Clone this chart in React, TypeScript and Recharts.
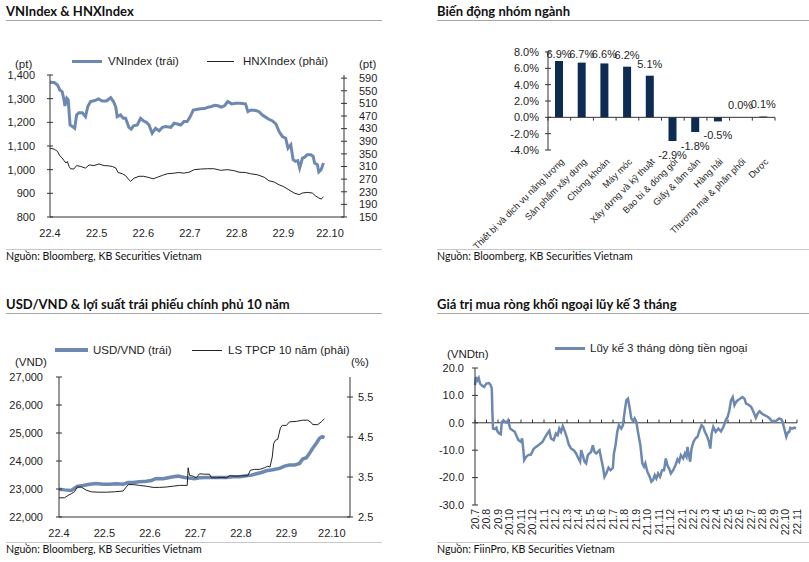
import React from 'react';
import { LineChart, Line, XAxis, YAxis, BarChart, Bar, LabelList, ReferenceLine } from 'recharts';

const FONT = '"Liberation Sans", Arial, sans-serif';
const TITLE_FONT = 'Lato, "Noto Sans", sans-serif';
const BLUE = '#6d89b1';
const NAVY = '#0c2c52';
const AXIS = '#333333';
const TEXT = '#1e1e1e';

// --- VNIndex & HNXIndex (t = months since 22.4) ---
const monthLabels = ['22.4', '22.5', '22.6', '22.7', '22.8', '22.9', '22.10'];
const vnTicks = [800, 900, 1000, 1100, 1200, 1300, 1400];
const hnxTicks = [150, 190, 230, 270, 310, 350, 390, 430, 470, 510, 550, 590];

const vnIndex: [number, number][] = [
  [0.0, 1369], [0.09, 1368], [0.16, 1358], [0.21, 1337], [0.26, 1330], [0.3, 1295], [0.32, 1269],
  [0.36, 1302], [0.39, 1295], [0.43, 1189], [0.48, 1182], [0.53, 1175], [0.57, 1231], [0.62, 1241],
  [0.69, 1241], [0.76, 1224], [0.81, 1267], [0.87, 1288], [0.96, 1292], [1.04, 1299], [1.12, 1290],
  [1.21, 1290], [1.3, 1304], [1.36, 1288], [1.41, 1264], [1.44, 1224], [1.51, 1231], [1.57, 1217],
  [1.62, 1217], [1.69, 1179], [1.74, 1171], [1.79, 1185], [1.87, 1189], [1.94, 1217], [2.0, 1207],
  [2.07, 1199], [2.12, 1189], [2.19, 1154], [2.26, 1175], [2.34, 1164], [2.41, 1179], [2.48, 1182],
  [2.59, 1179], [2.66, 1196], [2.73, 1193], [2.8, 1189], [2.87, 1203], [2.94, 1203], [3.0, 1222],
  [3.07, 1252], [3.16, 1255], [3.23, 1257], [3.31, 1258], [3.39, 1264], [3.46, 1267], [3.53, 1272],
  [3.6, 1270], [3.67, 1264], [3.74, 1270], [3.81, 1288], [3.89, 1278], [3.98, 1281], [4.07, 1281],
  [4.19, 1278], [4.24, 1245], [4.31, 1252], [4.41, 1250], [4.48, 1245], [4.55, 1231], [4.62, 1222],
  [4.69, 1213], [4.76, 1207], [4.84, 1193], [4.91, 1161], [4.98, 1140], [5.05, 1133], [5.1, 1091],
  [5.16, 1105], [5.21, 1042], [5.26, 1035], [5.31, 1038], [5.35, 1007], [5.41, 1049], [5.46, 1053],
  [5.51, 1063], [5.59, 1063], [5.64, 1056], [5.67, 1028], [5.73, 1021], [5.76, 990], [5.81, 1000],
  [5.86, 1028],
];

const hnxIndex: [number, number][] = [
  [0.0, 368], [0.09, 365], [0.16, 358], [0.21, 344], [0.26, 337], [0.3, 329], [0.34, 321], [0.37, 326],
  [0.41, 310], [0.44, 303], [0.51, 302], [0.57, 313], [0.66, 310], [0.76, 305], [0.84, 315], [0.94, 313],
  [1.05, 318], [1.16, 313], [1.26, 312], [1.34, 310], [1.41, 305], [1.46, 291], [1.55, 287], [1.62, 281],
  [1.69, 268], [1.73, 263], [1.8, 273], [1.91, 279], [2.01, 279], [2.12, 275], [2.21, 271], [2.3, 276],
  [2.41, 282], [2.51, 287], [2.66, 289], [2.76, 291], [2.87, 289], [2.98, 292], [3.09, 300], [3.23, 302],
  [3.37, 303], [3.51, 303], [3.66, 298], [3.8, 300], [3.94, 297], [4.05, 292], [4.19, 291], [4.3, 287],
  [4.44, 284], [4.59, 276], [4.69, 265], [4.8, 261], [4.91, 252], [5.01, 246], [5.12, 236], [5.23, 226],
  [5.34, 221], [5.41, 226], [5.51, 228], [5.62, 226], [5.69, 217], [5.76, 210], [5.81, 207], [5.86, 214],
];

// --- Sector performance (%) ---
const sectors = [
  'Thiết bị và dịch vụ năng lượng', 'Sản phẩm xây dựng', 'Chứng khoán', 'Máy móc', 'Xây dựng và kỹ thuật',
  'Bao bì & đóng gói', 'Giấy & lâm sản', 'Hàng hải', 'Thương mại & phân phối', 'Dược',
];
const sectorChange = [6.9, 6.7, 6.6, 6.2, 5.1, -2.9, -1.8, -0.5, 0.0, 0.1];
const pctTicks = [-4, -2, 0, 2, 4, 6, 8];

// --- USD/VND & 10y government bond yield ---
const usdTicks = [22000, 23000, 24000, 25000, 26000, 27000];
const yieldTicks = [2.5, 3.5, 4.5, 5.5];

const usdVnd: [number, number][] = [
  [0.0, 22993], [0.12, 22969], [0.27, 22945], [0.4, 23089], [0.53, 23124], [0.67, 23172], [0.82, 23196],
  [0.97, 23172], [1.11, 23172], [1.26, 23184], [1.41, 23172], [1.52, 23232], [1.63, 23232], [1.77, 23256],
  [1.92, 23280], [2.03, 23304], [2.14, 23376], [2.29, 23364], [2.4, 23400], [2.51, 23435], [2.62, 23459],
  [2.76, 23411], [2.87, 23388], [2.98, 23364], [3.09, 23400], [3.24, 23411], [3.38, 23411], [3.53, 23411],
  [3.68, 23411], [3.82, 23435], [3.97, 23435], [4.12, 23471], [4.23, 23495], [4.34, 23543], [4.45, 23591],
  [4.56, 23651], [4.7, 23687], [4.85, 23734], [4.96, 23818], [5.07, 23854], [5.18, 23854], [5.29, 23914],
  [5.36, 24069], [5.44, 24117], [5.51, 24272], [5.58, 24452], [5.66, 24632], [5.73, 24811], [5.79, 24871],
  [5.84, 24835],
];

const bondYield: [number, number][] = [
  [0.0, 2.98], [0.12, 2.98], [0.2, 3.04], [0.27, 3.08], [0.34, 3.13], [0.4, 3.25], [0.49, 3.25], [0.6, 3.17],
  [0.71, 3.13], [0.86, 3.12], [1.04, 3.12], [1.22, 3.13], [1.41, 3.15], [1.52, 3.31], [1.63, 3.31],
  [1.77, 3.29], [1.92, 3.27], [2.07, 3.24], [2.21, 3.24], [2.36, 3.25], [2.51, 3.27], [2.65, 3.29],
  [2.82, 3.29], [2.84, 3.73], [2.87, 3.54], [2.95, 3.52], [3.02, 3.48], [3.09, 3.58], [3.2, 3.57],
  [3.31, 3.57], [3.35, 3.48], [3.46, 3.48], [3.57, 3.49], [3.68, 3.48], [3.75, 3.53], [3.9, 3.52],
  [4.04, 3.53], [4.15, 3.53], [4.21, 3.67], [4.3, 3.69], [4.41, 3.69], [4.52, 3.73], [4.59, 3.77],
  [4.64, 3.75], [4.69, 4.0], [4.72, 4.33], [4.76, 4.42], [4.81, 4.44], [4.87, 4.73], [4.91, 4.79],
  [5.0, 4.79], [5.07, 4.88], [5.22, 4.89], [5.36, 4.92], [5.47, 4.92], [5.55, 4.86], [5.58, 4.81],
  [5.69, 4.81], [5.77, 4.88], [5.84, 4.96],
];

// --- Foreign net buying, 3-month rolling (t = months since 20.7) ---
const flowMonths = [
  '20.7', '20.8', '20.9', '20.10', '20.11', '20.12', '21.1', '21.2', '21.3', '21.4', '21.5', '21.6', '21.7',
  '21.8', '21.9', '21.10', '21.11', '21.12', '22.1', '22.2', '22.3', '22.4', '22.5', '22.6', '22.7', '22.8',
  '22.9', '22.10', '22.11',
];
const flowTicks = [-30, -20, -10, 0, 10, 20];

const foreignFlow: [number, number][] = [
  [0.0, 13.7], [0.09, 16.7], [0.2, 15.5], [0.32, 16.4], [0.44, 14.3], [0.58, 13.7], [0.79, 13.1], [0.99, 14.3],
  [1.22, 14.5], [1.37, 13.7], [1.46, 12.5], [1.51, 4.0], [1.57, -2.1], [1.72, -2.3], [1.86, -1.8], [1.95, -3.1],
  [2.1, -3.9], [2.24, -4.2], [2.33, 0.3], [2.47, 0.9], [2.62, 0.3], [2.76, 0.1], [2.88, 0.9], [3.06, -2.1],
  [3.26, -2.7], [3.46, -3.3], [3.64, -5.1], [3.78, -6.3], [3.99, -6.9], [4.1, -5.7], [4.22, -10.6], [4.28, -13.6],
  [4.45, -12.4], [4.63, -11.8], [4.86, -11.6], [5.09, -9.6], [5.3, -8.8], [5.59, -7.9], [5.88, -6.9], [6.11, -5.1],
  [6.32, -3.7], [6.46, -2.9], [6.61, -5.7], [6.84, -6.3], [7.04, -3.9], [7.19, -4.5], [7.33, -2.1], [7.48, -3.3],
  [7.63, -1.2], [7.77, -2.7], [7.97, -5.1], [8.15, -7.9], [8.35, -9.4], [8.59, -10.0], [8.79, -11.2], [8.99, -13.0],
  [9.14, -14.2], [9.23, -10.0], [9.37, -11.8], [9.52, -14.2], [9.66, -14.8], [9.81, -11.8], [9.95, -11.2],
  [10.1, -10.6], [10.24, -8.2], [10.39, -10.6], [10.54, -11.2], [10.68, -10.6], [10.83, -10.0], [10.97, -13.0],
  [11.12, -16.0], [11.26, -19.7], [11.41, -18.5], [11.61, -16.4], [11.79, -17.3], [11.99, -16.4], [12.08, -11.2],
  [12.22, -8.2], [12.37, -3.3], [12.51, -0.9], [12.72, -2.1], [12.86, -0.9], [13.01, 4.0], [13.16, 8.2],
  [13.3, 8.8], [13.45, 5.4], [13.59, 1.6], [13.74, 0.6], [13.88, 1.6], [14.03, 0.3], [14.17, -3.3], [14.38, -8.2],
  [14.55, -14.8], [14.7, -16.0], [14.81, -14.8], [14.99, -17.9], [15.19, -19.7], [15.34, -21.5], [15.48, -20.9],
  [15.63, -19.1], [15.77, -20.3], [15.92, -18.5], [16.09, -19.7], [16.27, -17.3], [16.44, -17.3], [16.59, -13.0],
  [16.73, -15.5], [16.88, -16.7], [17.03, -18.5], [17.23, -17.3], [17.43, -15.5], [17.61, -13.3], [17.75, -14.2],
  [17.9, -11.8], [18.1, -13.0], [18.25, -11.2], [18.39, -12.4], [18.48, -8.8], [18.6, -11.8], [18.71, -14.2],
  [18.83, -9.4], [19.0, -6.9], [19.18, -5.7], [19.35, -5.1], [19.53, -2.7], [19.7, -0.9], [19.85, -1.5],
  [19.99, -3.3], [20.14, -4.5], [20.34, -6.9], [20.46, -9.4], [20.58, -3.9], [20.72, -1.5], [20.93, -3.3],
  [21.16, -2.1], [21.39, -3.1], [21.6, -1.5], [21.8, 0.9], [21.97, 2.2], [22.12, 4.6], [22.26, 8.2], [22.41, 9.4],
  [22.56, 6.4], [22.7, 7.6], [22.85, 8.2], [23.05, 8.8], [23.25, 9.4], [23.43, 8.8], [23.57, 7.0], [23.78, 6.6],
  [24.01, 5.8], [24.21, 4.0], [24.42, 1.8], [24.59, 3.4], [24.74, 4.2], [24.94, 3.4], [25.17, 2.8], [25.38, 2.4],
  [25.58, 1.8], [25.81, 0.6], [26.04, 0.3], [26.25, 0.9], [26.45, 1.6], [26.63, 1.3], [26.75, 0.3], [26.89, -2.1],
  [27.07, -5.1], [27.21, -3.5], [27.33, -3.3], [27.42, -1.8], [27.56, -2.1], [27.79, -1.8], [27.91, -2.1],
];

const toRows = (pts: [number, number][]) => pts.map(([t, v]) => ({ t, v }));

const fmtThousands = (v: number) => v.toLocaleString('en-US');
const fmtOne = (v: number) => v.toFixed(1);
const fmtPct = (v: number) => `${v.toFixed(1)}%`;

// y tick that draws a small crossing mark on the axis line
const YTick = (props: any) => {
  const { x, y, payload, side, offset, fmt } = props;
  const ax = side === 'left' ? x + offset : x - offset;
  return (
    <g>
      <line x1={ax - 3} x2={ax + 3} y1={y} y2={y} stroke={AXIS} strokeWidth={1} />
      <text x={x} y={y} dy="0.35em" textAnchor={side === 'left' ? 'end' : 'start'} fontSize={11} fill={TEXT} fontFamily={FONT}>
        {fmt(payload.value)}
      </text>
    </g>
  );
};

const MonthTick = (props: any) => {
  const { x, y, payload, labels } = props;
  return (
    <text x={x} y={y} dy="0.71em" textAnchor="middle" fontSize={11} fill={TEXT} fontFamily={FONT}>
      {labels[payload.value]}
    </text>
  );
};

const Title = ({ x, y, w, text }: { x: number; y: number; w: number; text: string }) => (
  <>
    <div style={{ position: 'absolute', left: x, top: y, fontFamily: TITLE_FONT, fontWeight: 700, fontSize: 13, color: '#111', whiteSpace: 'nowrap' }}>
      {text}
    </div>
    <div style={{ position: 'absolute', left: x, top: y + 17, width: w, height: 1, background: '#a6a6a6' }} />
  </>
);

const Footer = ({ x, y, w, text }: { x: number; y: number; w: number; text: string }) => (
  <>
    <div style={{ position: 'absolute', left: x, top: y, width: w, height: 1, background: '#c8c8c8' }} />
    <div style={{ position: 'absolute', left: x, top: y + 1, fontFamily: TITLE_FONT, fontSize: 10.6, color: '#111', whiteSpace: 'nowrap' }}>
      {text}
    </div>
  </>
);

const Label = ({ x, y, text }: { x: number; y: number; text: string }) => (
  <div style={{ position: 'absolute', left: x, top: y - 7, fontFamily: FONT, fontSize: 11.5, color: TEXT, whiteSpace: 'nowrap', lineHeight: '14px' }}>
    {text}
  </div>
);

const LegendLine = ({ x, y, w, thick, color }: { x: number; y: number; w: number; thick: number; color: string }) => (
  <div style={{ position: 'absolute', left: x, top: y - thick / 2, width: w, height: thick, background: color }} />
);

const SectorLabel = (props: any) => {
  const { x, y, width, height, value } = props;
  const h = height || 0;
  const top = Math.min(y, y + h);
  const bottom = Math.max(y, y + h);
  const cy = value < 0 ? bottom + 14 : Math.max(top - 12, 14);
  return (
    <text x={x + width / 2} y={cy} dy="0.35em" textAnchor="middle" fontSize={11} fill={TEXT} fontFamily={FONT}>
      {`${Number(value).toFixed(1)}%`}
    </text>
  );
};

const SectorTick = (props: any) => {
  const { x, y, payload } = props;
  const ax = x + 3;
  const ay = y + 10;
  return (
    <text x={ax} y={ay} dy="0.35em" textAnchor="end" fontSize={9.2} fill={TEXT} fontFamily={FONT}
      transform={`rotate(-45 ${ax} ${ay})`}>
      {payload.value}
    </text>
  );
};

const FlowMonthTick = (props: any) => {
  const { x, y, payload } = props;
  return (
    <text x={x} y={y} dy="0.35em" textAnchor="end" fontSize={10.5} fill={TEXT} fontFamily={FONT}
      transform={`rotate(-90 ${x} ${y})`}>
      {flowMonths[payload.value]}
    </text>
  );
};

export default function App() {
  const sectorRows = sectors.map((name, i) => ({ name, v: sectorChange[i] }));
  return (
    <div style={{ position: 'absolute', left: 0, top: 0, width: 809, height: 562, background: '#fff', overflow: 'hidden' }}>
      {/* Panel 1 */}
      <Title x={6} y={3} w={376} text="VNIndex & HNXIndex" />
      <LegendLine x={72} y={61} w={30} thick={3} color={BLUE} />
      <Label x={108} y={61} text="VNIndex (trái)" />
      <LegendLine x={207} y={61} w={27} thick={1} color="#222" />
      <Label x={243} y={61} text="HNXIndex (phải)" />
      <Label x={15} y={64} text="(pt)" />
      <Label x={359} y={64} text="(pt)" />
      <div style={{ position: 'absolute', left: 0, top: 60 }}>
        <LineChart width={400} height={180} margin={{ top: 15, right: 0, bottom: 0, left: 0 }}>
          <XAxis type="number" dataKey="t" domain={[0, 6.3]} ticks={[0, 1, 2, 3, 4, 5, 6]} interval={0}
            allowDataOverflow stroke={AXIS} tickLine={false} tickSize={6} tickMargin={6} height={23}
            tick={<MonthTick labels={monthLabels} />} />
          <YAxis yAxisId="left" orientation="left" domain={[800, 1400]} ticks={vnTicks} interval={0} width={50}
            stroke={AXIS} tickLine={false} tickSize={3} tickMargin={12}
            tick={<YTick side="left" offset={15} fmt={fmtThousands} />} />
          <YAxis yAxisId="right" orientation="right" domain={[150, 600]} ticks={hnxTicks} interval={0} width={56}
            stroke={AXIS} tickLine={false} tickSize={3} tickMargin={12}
            tick={<YTick side="right" offset={15} fmt={(v: number) => String(v)} />} />
          <Line yAxisId="left" data={toRows(vnIndex)} dataKey="v" stroke={BLUE} strokeWidth={3} dot={false} isAnimationActive={false} />
          <Line yAxisId="right" data={toRows(hnxIndex)} dataKey="v" stroke="#222" strokeWidth={1} dot={false} isAnimationActive={false} />
        </LineChart>
      </div>
      <Footer x={6} y={249} w={376} text="Nguồn: Bloomberg, KB Securities Vietnam" />

      {/* Panel 2 */}
      <Title x={437} y={3} w={372} text="Biến động nhóm ngành" />
      <div style={{ position: 'absolute', left: 420, top: 40 }}>
        <BarChart width={389} height={218} data={sectorRows} margin={{ top: 12, right: 34, bottom: 0, left: 0 }} barSize={8}>
          <XAxis dataKey="name" type="category" interval={0} axisLine={false} tickLine={false} tickSize={0} tickMargin={0}
            height={108} tick={<SectorTick />} />
          <YAxis domain={[-4, 8]} ticks={pctTicks} interval={0} width={128} stroke={AXIS} tickLine={false} tickSize={3} tickMargin={6}
            tick={<YTick side="left" offset={9} fmt={fmtPct} />} />
          <ReferenceLine y={0} stroke={AXIS} strokeWidth={1} />
          {sectors.map((s) => (
            <ReferenceLine key={s} segment={[{ x: s, y: 0 }, { x: s, y: -0.4 }]} position="start" stroke={AXIS} />
          ))}
          <ReferenceLine segment={[{ x: sectors[sectors.length - 1], y: 0 }, { x: sectors[sectors.length - 1], y: -0.4 }]} position="end" stroke={AXIS} />
          <Bar dataKey="v" fill={NAVY} minPointSize={0.01} isAnimationActive={false}>
            <LabelList dataKey="v" content={<SectorLabel />} />
          </Bar>
        </BarChart>
      </div>
      <Footer x={437} y={249} w={372} text="Nguồn: Bloomberg, KB Securities Vietnam" />

      {/* Panel 3 */}
      <Title x={6} y={296} w={376} text="USD/VND & lợi suất trái phiếu chính phủ 10 năm" />
      <LegendLine x={55} y={350} w={33} thick={4} color={BLUE} />
      <Label x={93} y={350} text="USD/VND (trái)" />
      <LegendLine x={192} y={350} w={30} thick={1} color="#222" />
      <Label x={228} y={350} text="LS TPCP 10 năm (phải)" />
      <Label x={15} y={362} text="(VND)" />
      <Label x={351} y={362} text="(%)" />
      <div style={{ position: 'absolute', left: 0, top: 360 }}>
        <LineChart width={400} height={180} margin={{ top: 17, right: 0, bottom: 0, left: 0 }}>
          <XAxis type="number" dataKey="t" domain={[0, 6.4]} ticks={[0, 1, 2, 3, 4, 5, 6]} interval={0} allowDataOverflow
            stroke={AXIS} tickLine={false} tickSize={6} tickMargin={6} height={23}
            tick={<MonthTick labels={monthLabels} />} />
          <YAxis yAxisId="left" orientation="left" domain={[22000, 27000]} ticks={usdTicks} interval={0} width={59}
            stroke={AXIS} tickLine={false} tickSize={3} tickMargin={13}
            tick={<YTick side="left" offset={16} fmt={fmtThousands} />} />
          <YAxis yAxisId="right" orientation="right" domain={[2.5, 6]} ticks={yieldTicks} interval={0} width={50}
            stroke={AXIS} tickLine={false} tickSize={3} tickMargin={5}
            tick={<YTick side="right" offset={8} fmt={fmtOne} />} />
          <Line yAxisId="left" data={toRows(usdVnd)} dataKey="v" stroke={BLUE} strokeWidth={3.5} dot={false} isAnimationActive={false} />
          <Line yAxisId="right" data={toRows(bondYield)} dataKey="v" stroke="#222" strokeWidth={1} dot={false} isAnimationActive={false} />
        </LineChart>
      </div>
      <Footer x={6} y={542} w={376} text="Nguồn: Bloomberg, KB Securities Vietnam" />

      {/* Panel 4 */}
      <Title x={437} y={296} w={372} text="Giá trị mua ròng khối ngoại lũy kế 3 tháng" />
      <LegendLine x={555} y={348} w={30} thick={3} color={BLUE} />
      <Label x={590} y={348} text="Lũy kế 3 tháng dòng tiền ngoại" />
      <Label x={447} y={354} text="(VNDtn)" />
      <div style={{ position: 'absolute', left: 405, top: 355 }}>
        <LineChart width={404} height={195} data={toRows(foreignFlow)} margin={{ top: 13, right: 12, bottom: 0, left: 0 }}>
          <XAxis type="number" dataKey="t" domain={[0, 28]} ticks={flowMonths.map((_, i) => i)} interval={0}
            axisLine={false} tickLine={false} tickSize={0} tickMargin={4} height={45} tick={<FlowMonthTick />} />
          <YAxis domain={[-30, 20]} ticks={flowTicks} interval={0} width={70} stroke={AXIS} tickLine={false} tickSize={3} tickMargin={8}
            tick={<YTick side="left" offset={11} fmt={fmtOne} />} />
          <ReferenceLine y={0} stroke={AXIS} strokeWidth={1} />
          {flowMonths.map((m, i) => (
            <ReferenceLine key={m} segment={[{ x: i, y: 0 }, { x: i, y: 1.2 }]} stroke={AXIS} />
          ))}
          <Line dataKey="v" stroke={BLUE} strokeWidth={2.5} dot={false} isAnimationActive={false} />
        </LineChart>
      </div>
      <Footer x={437} y={542} w={372} text="Nguồn: FiinPro, KB Securities Vietnam" />
    </div>
  );
}
